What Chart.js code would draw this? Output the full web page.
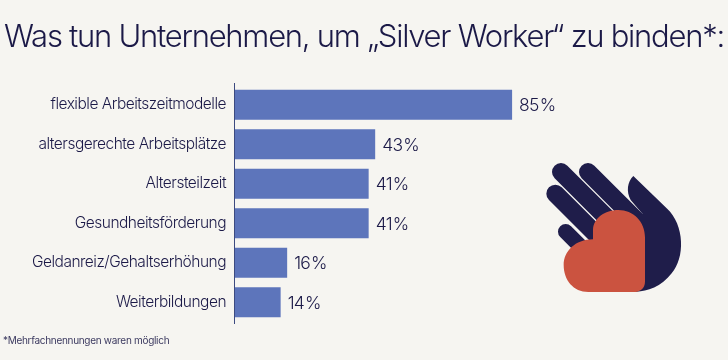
<!DOCTYPE html>
<html lang="de">
<head>
<meta charset="utf-8">
<title>Silver Worker</title>
<script src="https://cdn.jsdelivr.net/npm/chart.js@4"></script>
<style>
    html, body { margin: 0; padding: 0; background: #f6f5f1; }
    #wrap { position: relative; width: 728px; height: 360px; overflow: hidden; font-family: Inter, sans-serif; color: #1b1947; }
    #chartBox { position: absolute; left: 0; top: 0; width: 728px; height: 360px; }
    #title { position: absolute; left: 4px; top: 16px; font-size: 31px; line-height: 40px; font-weight: 300; white-space: nowrap; letter-spacing: -1.26px; }
    #note { position: absolute; left: 3px; top: 333px; font-size: 10px; line-height: 14px; letter-spacing: -0.3px; color: #3c3a60; white-space: nowrap; }
    #icon { position: absolute; left: 530px; top: 150px; }
</style>
</head>
<body>
<div id="wrap">
    <div id="chartBox"><canvas id="silverChart" width="728" height="360"></canvas></div>
    <div id="title">Was tun Unternehmen, um „Silver Worker“ zu binden*:</div>
    <div id="note">*Mehrfachnennungen waren möglich</div>
    <svg id="icon" width="170" height="160" viewBox="0 0 510 480">
        <g stroke="#1f1d4a" stroke-width="54" stroke-linecap="round" fill="none">
            <line x1="93" y1="66" x2="263" y2="236"/>
            <line x1="76" y1="131" x2="226" y2="281"/>
            <line x1="174" y1="66" x2="320" y2="212"/>
        </g>
        <line x1="107" y1="245" x2="177" y2="315" stroke="#1f1d4a" stroke-width="46" stroke-linecap="round"/>
        <path fill="#1f1d4a" d="M310 78 L410 175 C465 225 465 325 425 370 C395 410 350 425 320 425 L200 425 L200 220 L338 192 L302 150 C288 125 292 95 310 78 Z"/>
        <path fill="#cb5340" d="M189 268 L189 240 C189 205 225 180 265 180 C310 180 345 215 345 262 L345 395 C345 415 330 426 310 426 L175 426 C130 426 101 390 101 345 C101 305 135 268 189 268 Z"/>
    </svg>
</div>
<script>
// Werte
const categories = ["flexible Arbeitszeitmodelle", "altersgerechte Arbeitsplätze", "Altersteilzeit", "Gesundheitsförderung", "Geldanreiz/Gehaltserhöhung", "Weiterbildungen"];
const percentValues = [85, 43, 41, 41, 16, 14];

const inkColor = "#1b1947";

// Achsenbeschriftung etwas enger setzen
const tightText = {
    id: "tightText",
    beforeDraw(chart) {
        chart.ctx.letterSpacing = "-0.5px";
    }
};

// Prozentwerte hinter die Balken schreiben
const valueLabels = {
    id: "valueLabels",
    afterDatasetsDraw(chart) {
        const ctx = chart.ctx;
        const bars = chart.getDatasetMeta(0).data;
        ctx.save();
        ctx.font = "300 17.5px Inter, sans-serif";
        ctx.letterSpacing = "-0.7px";
        ctx.fillStyle = inkColor;
        ctx.textAlign = "left";
        ctx.textBaseline = "middle";
        bars.forEach((bar, i) => {
            ctx.fillText(percentValues[i] + "\u200a%", bar.x + 7, bar.y + 1);
        });
        ctx.restore();
    }
};

// Senkrechte Achse, etwas länger als die Balkenfläche
const axisLine = {
    id: "axisLine",
    afterDatasetsDraw(chart) {
        const ctx = chart.ctx;
        const x = Math.round(chart.scales.x.getPixelForValue(0)) - 0.5;
        ctx.save();
        ctx.strokeStyle = "#3c4a80";
        ctx.lineWidth = 1;
        ctx.beginPath();
        ctx.moveTo(x, chart.chartArea.top - 2);
        ctx.lineTo(x, chart.chartArea.bottom + 2);
        ctx.stroke();
        ctx.restore();
    }
};

new Chart(document.getElementById("silverChart"), {
    type: "bar",
    data: {
        labels: categories,
        datasets: [{
            data: percentValues,
            backgroundColor: "#5d75bb",
            borderWidth: 0,
            categoryPercentage: 1,
            barPercentage: 0.76
        }]
    },
    options: {
        indexAxis: "y",
        responsive: false,
        animation: false,
        layout: { padding: { top: 85, bottom: 38, right: 167, left: 0 } },
        plugins: { legend: { display: false }, tooltip: { enabled: false } },
        scales: {
            x: { display: false, min: 0, max: 100 },
            y: {
                afterFit(scale) { scale.width = 235; },
                border: { display: false },
                grid: { display: false, drawTicks: false },
                ticks: {
                    color: inkColor,
                    padding: 9,
                    autoSkip: false,
                    font: { family: "Inter, sans-serif", size: 15.5, weight: 300 }
                }
            }
        }
    },
    plugins: [tightText, valueLabels, axisLine]
});
</script>
</body>
</html>
